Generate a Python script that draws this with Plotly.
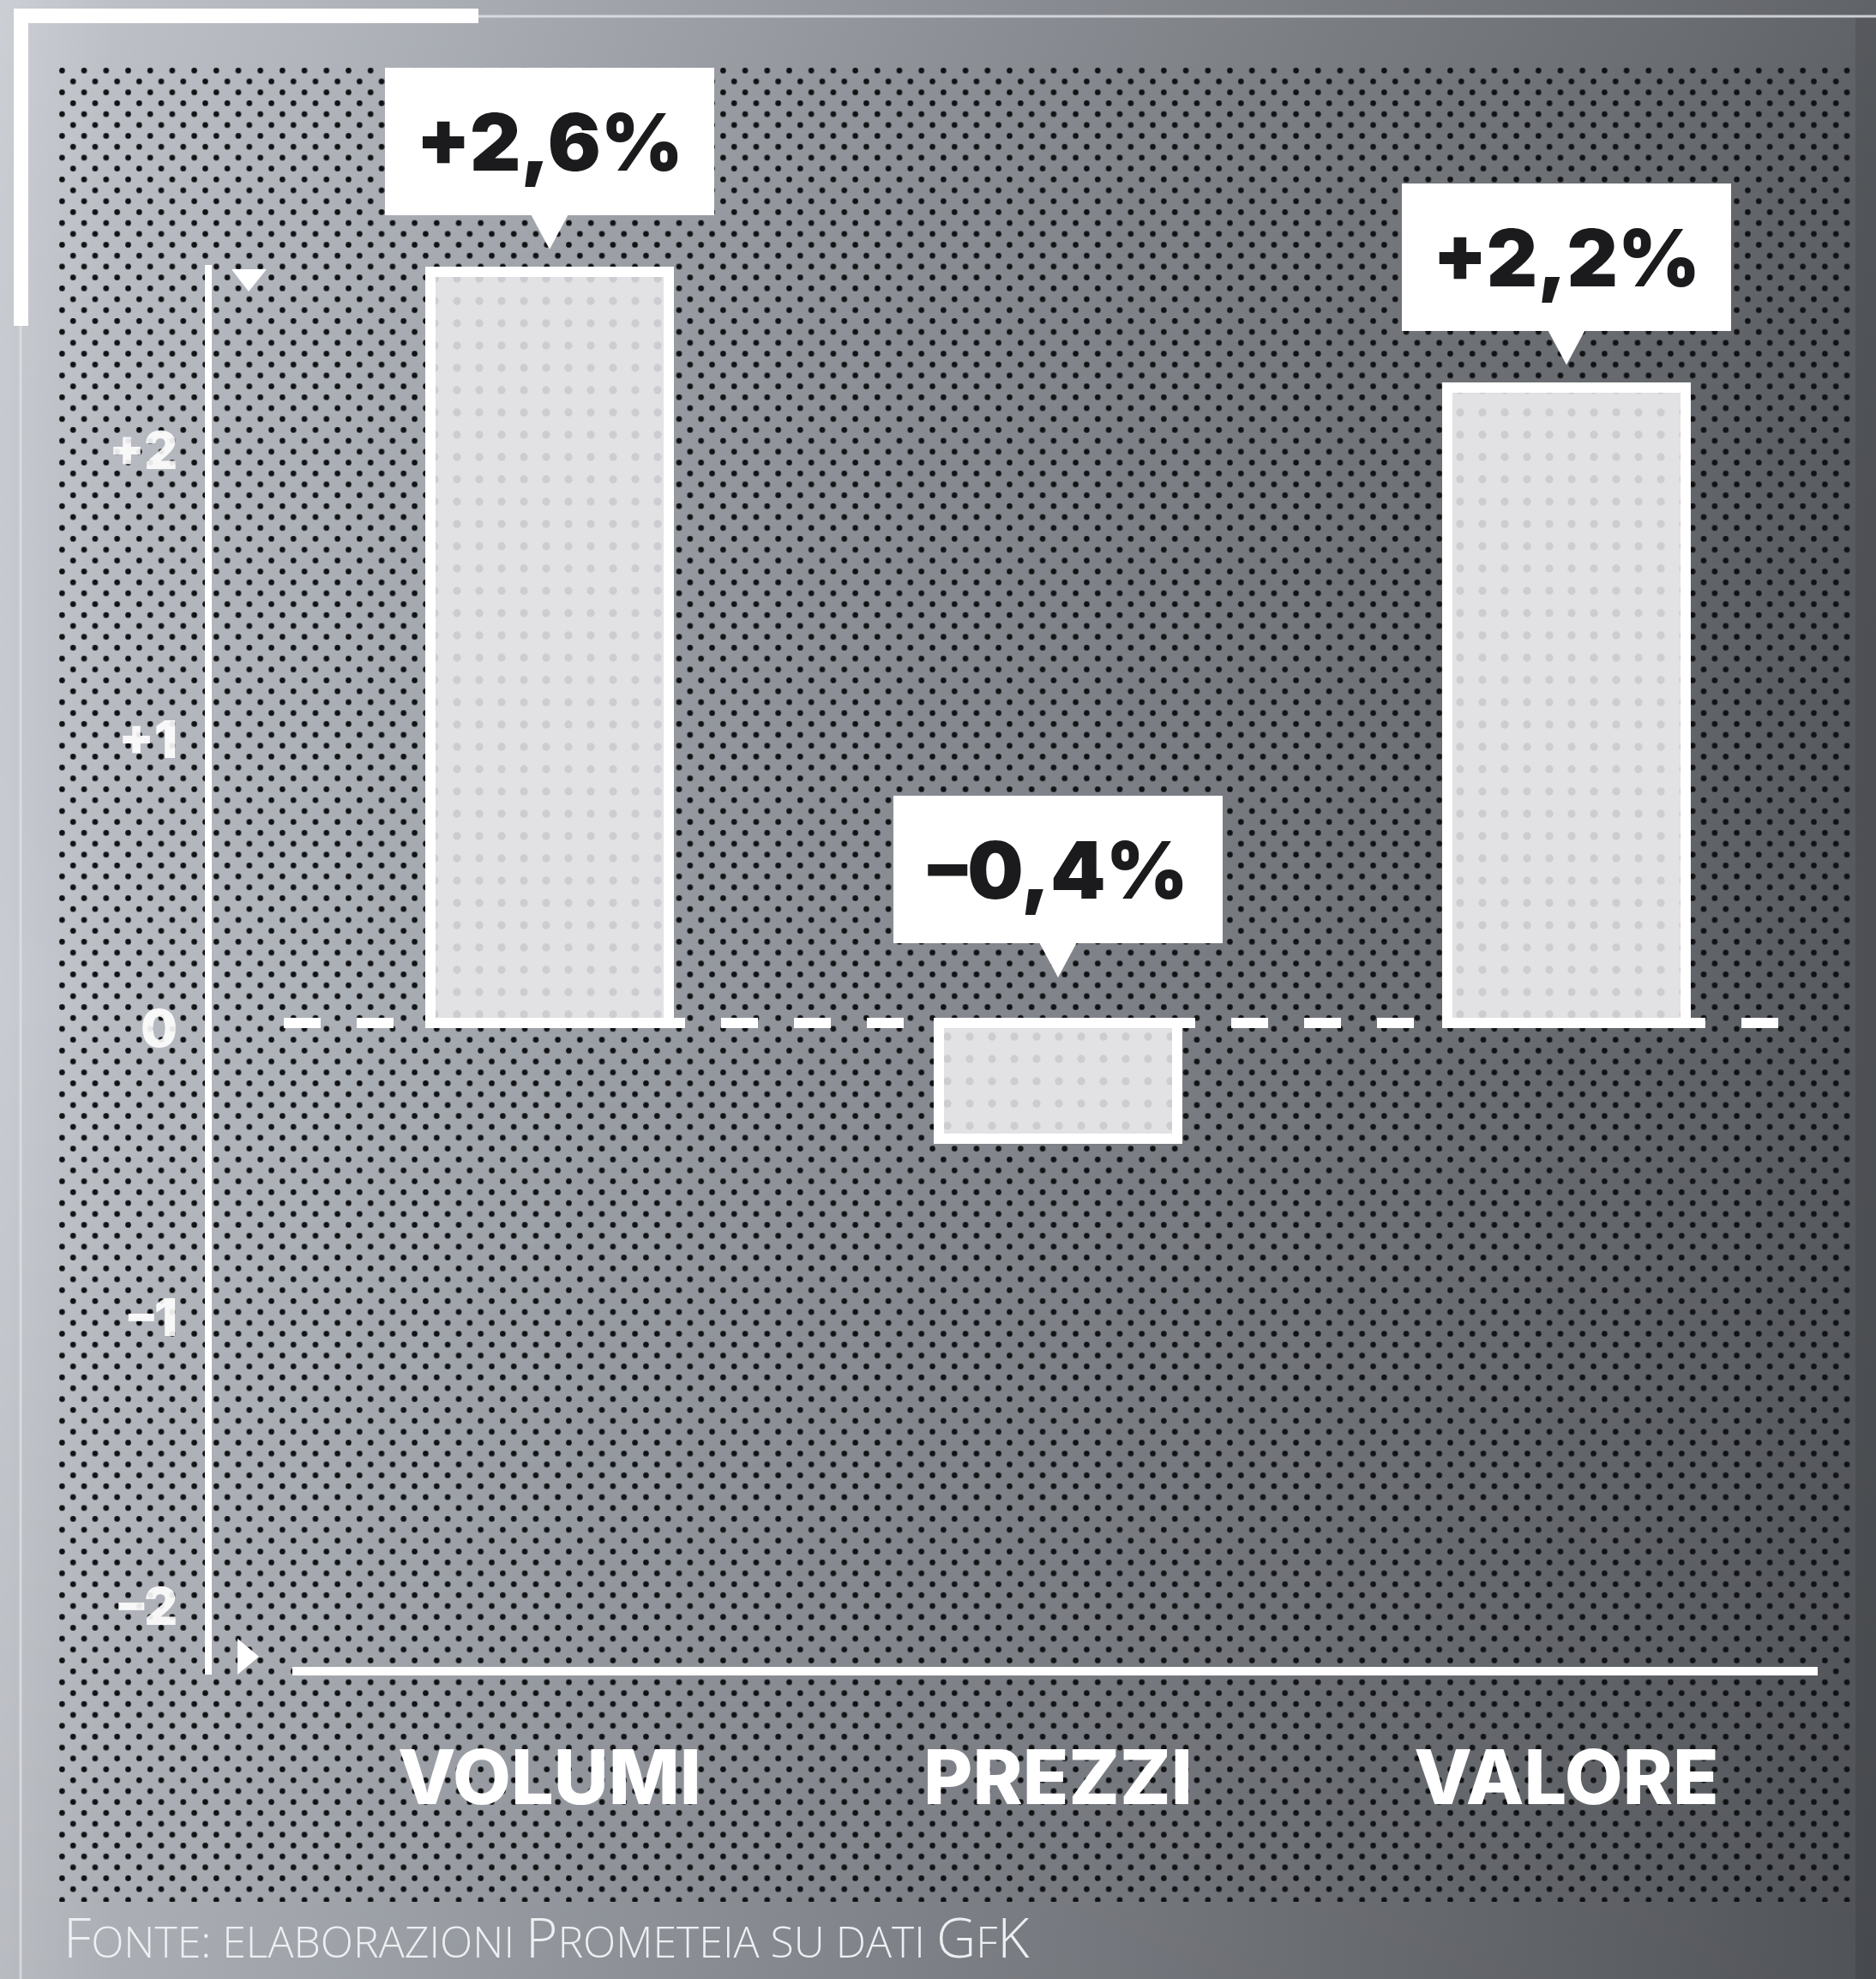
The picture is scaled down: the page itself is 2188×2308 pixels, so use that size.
import base64
import plotly.graph_objects as go

# ---------------- data ----------------
categories = ["VOLUMI", "PREZZI", "VALORE"]
values = [2.6, -0.4, 2.2]
value_labels = ["+2,6%", "–0,4%", "+2,2%"]
y_tick_vals = [-2, -1, 0, 1, 2]
y_tick_text = ["–2", "–1", "0", "+1", "+2"]
source_note = ("F<span style='font-size:50px'>ONTE: ELABORAZIONI </span>"
               "P<span style='font-size:50px'>ROMETEIA SU DATI </span>"
               "G<span style='font-size:50px'>F</span>K")

# ---------------- geometry (pixels of the 2188x2308 canvas) ----------------
W, H = 2188, 2308
X0_PX, X_STEP = 641, 593      # pixel of first category centre, px per category
Y0_PX, Y_STEP = 1193, 337     # pixel of value 0, px per unit

x_range = [-X0_PX / X_STEP, (W - X0_PX) / X_STEP]
y_range = [-(H - Y0_PX) / Y_STEP, Y0_PX / Y_STEP]


def dx(px):
    return (px - X0_PX) / X_STEP


def dy(py):
    return (Y0_PX - py) / Y_STEP


def pxp(px):
    return px / W


def pyp(py):
    return 1 - py / H


# ---------------- background (gradient + perforated dots) ----------------
svg = f"""<svg xmlns='http://www.w3.org/2000/svg' width='{W}' height='{H}' viewBox='0 0 {W} {H}'>
<defs>
<linearGradient id='h' x1='0' y1='0' x2='1' y2='0'>
<stop offset='0' stop-color='#c9ccd2'/>
<stop offset='0.06' stop-color='#b9bcc3'/>
<stop offset='0.16' stop-color='#aeb2b9'/>
<stop offset='0.30' stop-color='#9da1a8'/>
<stop offset='0.50' stop-color='#878a91'/>
<stop offset='0.72' stop-color='#717479'/>
<stop offset='0.90' stop-color='#616469'/>
<stop offset='1' stop-color='#56595e'/>
</linearGradient>
<linearGradient id='v' x1='0' y1='0' x2='0' y2='1'>
<stop offset='0' stop-color='#ffffff' stop-opacity='0.06'/>
<stop offset='0.5' stop-color='#000000' stop-opacity='0'/>
<stop offset='1' stop-color='#000000' stop-opacity='0.08'/>
</linearGradient>
<pattern id='d' x='66' y='76' width='25.7' height='25.4' patternUnits='userSpaceOnUse'>
<circle cx='6.4' cy='6.3' r='3.3' fill='#111214'/>
<circle cx='19.25' cy='19.0' r='3.3' fill='#111214'/>
</pattern>
</defs>
<rect width='{W}' height='{H}' fill='url(#h)'/>
<rect width='{W}' height='{H}' fill='url(#v)'/>
<rect x='66' y='76' width='2096' height='2142' fill='url(#d)'/>
<rect x='2164' y='20' width='24' height='{H}' fill='#000000' fill-opacity='0.10'/>
</svg>"""
bg_uri = "data:image/svg+xml;base64," + base64.b64encode(svg.encode()).decode()

x_idx = list(range(len(categories)))

fig = go.Figure()
fig.add_trace(go.Bar(
    x=x_idx,
    y=values,
    width=0.468,
    marker=dict(
        color="#e2e2e4",
        line=dict(color="#ffffff", width=12),
        pattern=dict(shape=".", size=26, solidity=0.10,
                     fgcolor="#cdcdd1", bgcolor="#e2e2e4", fillmode="replace"),
    ),
    hoverinfo="skip",
    cliponaxis=False,
))

shapes = []
# dashed zero line
shapes.append(dict(type="line", xref="x", yref="y", x0=dx(331), x1=dx(2113), y0=0, y1=0,
                   line=dict(color="white", width=12, dash="43px,42px"), layer="below"))
# vertical axis line
shapes.append(dict(type="line", xref="paper", yref="paper", x0=pxp(243), x1=pxp(243),
                   y0=pyp(309), y1=pyp(1953), line=dict(color="white", width=8), layer="below"))
# horizontal axis line
shapes.append(dict(type="line", xref="paper", yref="paper", x0=pxp(341), x1=pxp(2120),
                   y0=pyp(1949), y1=pyp(1949), line=dict(color="white", width=10), layer="below"))
# axis arrow heads
shapes.append(dict(type="path", xref="paper", yref="paper",
                   path=f"M {pxp(270)},{pyp(314)} L {pxp(311)},{pyp(314)} L {pxp(290)},{pyp(340)} Z",
                   fillcolor="white", line=dict(width=0), layer="below"))
shapes.append(dict(type="path", xref="paper", yref="paper",
                   path=f"M {pxp(277)},{pyp(1911)} L {pxp(277)},{pyp(1953)} L {pxp(302)},{pyp(1932)} Z",
                   fillcolor="white", line=dict(width=0), layer="below"))
# frame lines
shapes.append(dict(type="rect", xref="paper", yref="paper", x0=pxp(16), x1=pxp(558),
                   y0=pyp(10), y1=pyp(27), fillcolor="white", line=dict(width=0)))
shapes.append(dict(type="rect", xref="paper", yref="paper", x0=pxp(16), x1=pxp(33),
                   y0=pyp(10), y1=pyp(380), fillcolor="white", line=dict(width=0)))
shapes.append(dict(type="line", xref="paper", yref="paper", x0=pxp(558), x1=1,
                   y0=pyp(19), y1=pyp(19), line=dict(color="rgba(225,226,230,0.85)", width=3)))
shapes.append(dict(type="line", xref="paper", yref="paper", x0=pxp(24), x1=pxp(24),
                   y0=pyp(380), y1=0, line=dict(color="rgba(225,226,230,0.7)", width=3)))

annotations = []
for i, (v, lab) in enumerate(zip(values, value_labels)):
    base = max(v, 0)
    shift = 66 if v > 0 else 93
    annotations.append(dict(
        x=i, y=base, xref="x", yref="y", yanchor="bottom", xanchor="center",
        yshift=shift, text=lab, showarrow=False, width=384, height=172,
        bgcolor="white", borderpad=0, borderwidth=0,
        font=dict(family="Inter, Roboto, sans-serif", size=92, color="#1b1b1d", weight=900),
    ))
    yb = base + (shift + 1) / Y_STEP
    yt = base + (shift - 40) / Y_STEP
    hw = 22 / X_STEP
    shapes.append(dict(type="path", xref="x", yref="y",
                       path=f"M {i - hw},{yb} L {i + hw},{yb} L {i},{yt} Z",
                       fillcolor="white", line=dict(width=0)))

annotations.append(dict(
    x=pxp(72), y=pyp(2258), xref="paper", yref="paper", xanchor="left", yanchor="middle",
    text=source_note, showarrow=False,
    font=dict(family="Open Sans, Roboto, sans-serif", size=64, color="#eeeff2", weight=300),
))

fig.update_layout(
    width=W, height=H,
    margin=dict(l=0, r=0, t=0, b=0),
    paper_bgcolor="#8a8d93",
    plot_bgcolor="rgba(0,0,0,0)",
    showlegend=False,
    bargap=0,
    images=[dict(source=bg_uri, xref="paper", yref="paper", x=0, y=1, sizex=1, sizey=1,
                 xanchor="left", yanchor="top", sizing="stretch", layer="below")],
    shapes=shapes,
    annotations=annotations,
    xaxis=dict(
        range=x_range, domain=[0, 1], anchor="free", position=pyp(1953),
        tickmode="array", tickvals=x_idx, ticktext=categories,
        showgrid=False, zeroline=False, showline=False, ticks="",
        ticklabelstandoff=62,
        tickfont=dict(family="Inter, Roboto, sans-serif", size=88, color="white", weight=800),
        fixedrange=True,
    ),
    yaxis=dict(
        range=y_range, domain=[0, 1], anchor="free", position=pxp(243), side="left",
        tickmode="array", tickvals=y_tick_vals, ticktext=y_tick_text,
        showgrid=False, zeroline=False, showline=False, ticks="",
        ticklabelstandoff=36, ticklabelshift=7,
        tickfont=dict(family="Inter, Roboto, sans-serif", size=60,
                      color="rgba(255,255,255,0.9)", weight=900),
        fixedrange=True,
    ),
)

fig.write_html("out.html", config={"displayModeBar": False},
               post_script="document.body.style.margin='0';document.body.style.padding='0';")
